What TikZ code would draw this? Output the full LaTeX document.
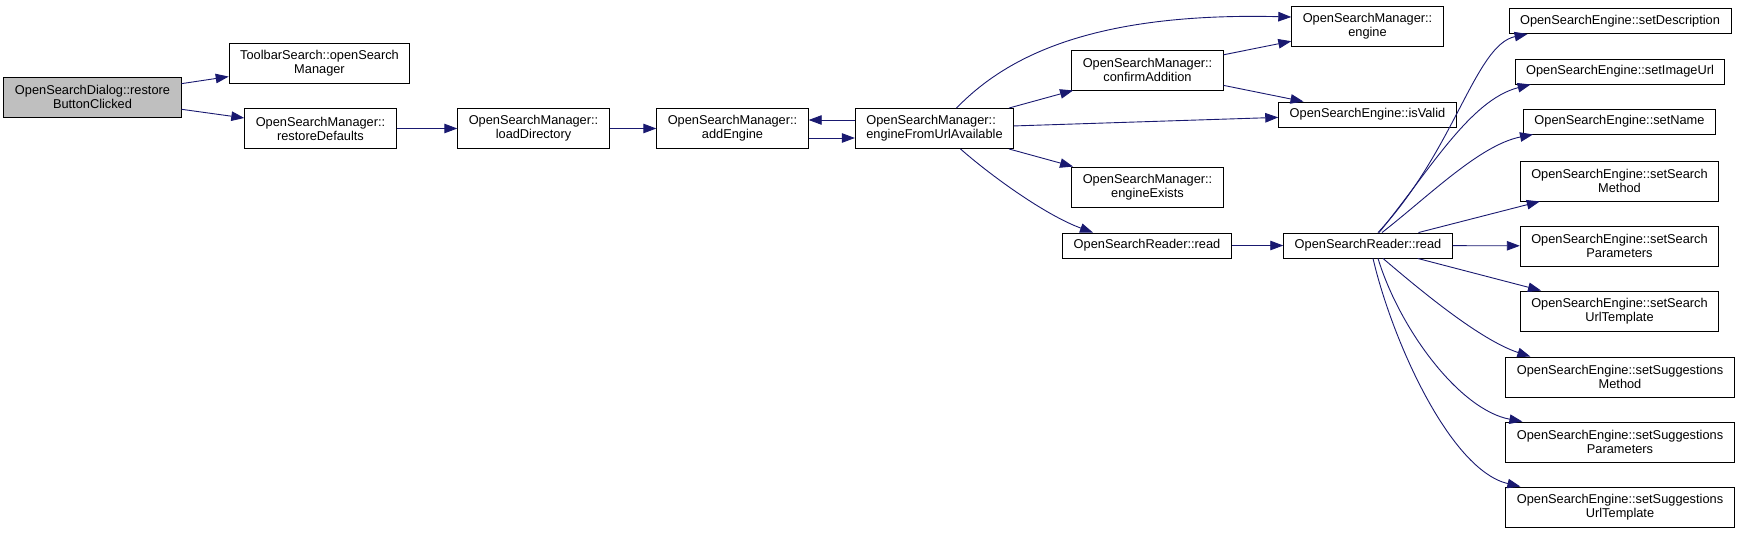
\documentclass[tikz,border=0pt]{standalone}
\usepackage{fontspec}
\setmainfont{Liberation Sans}
\usetikzlibrary{arrows.meta}
\definecolor{edgecolor}{RGB}{25,25,112}
\definecolor{rootcolor}{RGB}{191,191,191}
\tikzset{
    fn/.style={rectangle, draw=black, line width=0.9pt, fill=white, align=center,
        inner xsep=11pt, inner ysep=2pt, minimum height=25pt,
        font=\fontsize{12.8}{14}\selectfont},
    fntwo/.style={fn, minimum height=40pt},
    call/.style={-{Triangle[length=13pt,width=9.5pt]}, draw=edgecolor, line width=0.9pt}
}

\begin{document}
\begin{tikzpicture}[x=1pt, y=-1pt]
    \useasboundingbox (0,0) rectangle (1740,533);

    % Caller and first calls
    \node[fntwo, fill=rootcolor] (dlg) at (92.5,97) {OpenSearchDialog::restore\\ButtonClicked};
    \node[fntwo] (tbs) at (319.5,63) {ToolbarSearch::openSearch\\Manager};
    \node[fntwo] (rd) at (320.5,128.5) {OpenSearchManager::\\restoreDefaults};
    \node[fntwo] (ld) at (533.5,128.5) {OpenSearchManager::\\loadDirectory};
    \node[fntwo] (ae) at (732.5,128.5) {OpenSearchManager::\\addEngine};
    \node[fntwo, align=left] (efua) at (934.5,128.5) {OpenSearchManager::\\engineFromUrlAvailable};

    % Manager level
    \node[fntwo] (ca) at (1147.5,70) {OpenSearchManager::\\confirmAddition};
    \node[fntwo] (ee) at (1147.5,187) {OpenSearchManager::\\engineExists};
    \node[fn] (orl) at (1147,245.5) {OpenSearchReader::read};
    \node[fntwo] (eng) at (1367.5,26) {OpenSearchManager::\\engine};
    \node[fn] (iv) at (1367.5,114.5) {OpenSearchEngine::isValid};
    \node[fn] (orr) at (1368,245.5) {OpenSearchReader::read};

    % Engine setters
    \node[fn] (sd) at (1620,21) {OpenSearchEngine::setDescription};
    \node[fn] (siu) at (1620,71.5) {OpenSearchEngine::setImageUrl};
    \node[fn] (sn) at (1619.5,121.5) {OpenSearchEngine::setName};
    \node[fntwo] (ssm) at (1619.5,181) {OpenSearchEngine::setSearch\\Method};
    \node[fntwo] (ssp) at (1619.5,246) {OpenSearchEngine::setSearch\\Parameters};
    \node[fntwo] (ssu) at (1619.5,311) {OpenSearchEngine::setSearch\\UrlTemplate};
    \node[fntwo] (sgm) at (1620,377) {OpenSearchEngine::setSuggestions\\Method};
    \node[fntwo] (sgp) at (1620,442) {OpenSearchEngine::setSuggestions\\Parameters};
    \node[fntwo] (sgu) at (1620,507) {OpenSearchEngine::setSuggestions\\UrlTemplate};

    \draw[call] (dlg) -- (tbs);
    \draw[call] (dlg) -- (rd);
    \draw[call] (rd) -- (ld);
    \draw[call] (ld) -- (ae);
    \draw[call] ([yshift=-9.5pt]ae.east) -- ([yshift=-9.5pt]efua.west);
    \draw[call] ([yshift=8.5pt]efua.west) -- ([yshift=8.5pt]ae.east);

    \draw[call] ([xshift=22pt]efua.north) .. controls (1005,58) and (1090,12) .. ([yshift=9pt]eng.west);
    \draw[call] (efua) -- (ca);
    \draw[call] (efua) -- (iv);
    \draw[call] (efua) -- (ee);
    \draw[call] ([xshift=26pt]efua.south) .. controls (990,175) and (1045,215) .. ([xshift=-54pt]orl.north);
    \draw[call] (ca) -- (eng);
    \draw[call] (ca) -- (iv);
    \draw[call] (orl) -- (orr);

    % reader calls the setters
    \draw[call] ([xshift=10pt]orr.north) .. controls (1455,150) and (1475,45) .. ([xshift=19pt]sd.south west);
    \draw[call] ([xshift=11pt]orr.north) .. controls (1430,170) and (1470,100) .. ([xshift=16pt]siu.south west);
    \draw[call] ([xshift=14pt]orr.north) .. controls (1430,195) and (1480,145) .. ([xshift=10pt]sn.south west);
    \draw[call] (orr) -- (ssm);
    \draw[call] (orr) -- (ssp);
    \draw[call] (orr) -- (ssu);
    \draw[call] ([xshift=15pt]orr.south) .. controls (1420,290) and (1480,340) .. ([xshift=25pt]sgm.north west);
    \draw[call] ([xshift=10pt]orr.south) .. controls (1400,330) and (1460,410) .. ([xshift=17pt]sgp.north west);
    \draw[call] ([xshift=5pt]orr.south) .. controls (1392,340) and (1450,470) .. ([xshift=15pt]sgu.north west);

\end{tikzpicture}
\end{document}
